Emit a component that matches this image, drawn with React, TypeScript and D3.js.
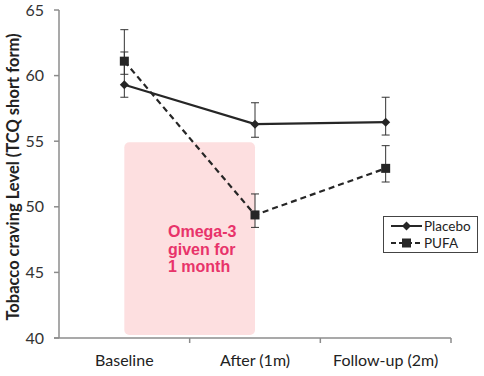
import React from "react";
import * as d3 from "d3";

const categories = ["Baseline", "After (1m)", "Follow-up (2m)"];
const placebo = [59.3, 56.3, 56.45];
const placeboLow = [58.35, 55.3, 55.47];
const placeboHigh = [61.8, 57.93, 58.35];
const pufa = [61.1, 49.38, 52.93];
const pufaLow = [60.1, 48.43, 51.89];
const pufaHigh = [63.5, 50.98, 54.66];
const yTicks = [40, 45, 50, 55, 60, 65];

const W = 484, H = 376;
const left = 59, right = 451, top = 10, bottom = 338;

export default function App() {
  const x = d3.scaleBand<string>().domain(categories).range([left, right]);
  const cx = (i: number) => (x(categories[i]) as number) + x.bandwidth() / 2;
  const y = d3.scaleLinear().domain([40, 65]).range([bottom, top]);
  const line = d3.line<number>().x((_, i) => cx(i)).y((d) => y(d));
  const font = "Lato, 'Open Sans', sans-serif";
  const axisColor = "#8c8c8c";
  const markColor = "#262626";

  const errBars = (lo: number[], hi: number[]) =>
    lo.map((l, i) => (
      <g key={i} stroke="#333" strokeWidth={1}>
        <line x1={cx(i)} x2={cx(i)} y1={y(l)} y2={y(hi[i])} />
        <line x1={cx(i) - 4} x2={cx(i) + 4} y1={y(l)} y2={y(l)} />
        <line x1={cx(i) - 4} x2={cx(i) + 4} y1={y(hi[i])} y2={y(hi[i])} />
      </g>
    ));

  const diamond = (px: number, py: number, k: string) => (
    <path key={k} d={`M${px},${py - 4.5}L${px + 4.5},${py}L${px},${py + 4.5}L${px - 4.5},${py}Z`} fill={markColor} />
  );
  const square = (px: number, py: number, k: string) => (
    <rect key={k} x={px - 4.5} y={py - 4.5} width={9} height={9} fill={markColor} />
  );

  const bandMid = cx(0);
  const bandEnd = cx(1);

  return (
    <svg width={W} height={H} style={{ position: "absolute", left: 0, top: 0, background: "#fff" }}>
      {/* shaded treatment period */}
      <rect x={bandMid} y={y(55) + 1} width={bandEnd - bandMid} height={bottom - 3 - (y(55) + 1)} rx={5} fill="#fddfe0" />
      <text fill="#e8336a" fontFamily="'Liberation Sans', Arial, sans-serif" fontWeight="bold" fontSize={16}>
        {["Omega-3", "given for", "1 month"].map((t, i) => (
          <tspan key={i} x={168} y={237 + i * 17.5}>{t}</tspan>
        ))}
      </text>

      {/* axes */}
      <line x1={left} x2={left} y1={top} y2={bottom} stroke={axisColor} strokeWidth={1.5} />
      <line x1={left - 5} x2={right} y1={bottom} y2={bottom} stroke={axisColor} strokeWidth={1.5} />
      {yTicks.map((t) => (
        <g key={t}>
          <line x1={left - 5} x2={left} y1={y(t)} y2={y(t)} stroke={axisColor} strokeWidth={1.5} />
          <text x={44} y={y(t)} dy="0.35em" textAnchor="end" fontFamily={font} fontSize={16} fill="#333">{t}</text>
        </g>
      ))}
      {categories.map((c, i) => (
        <g key={c}>
          <line x1={(x(c) as number) + x.bandwidth()} x2={(x(c) as number) + x.bandwidth()} y1={bottom} y2={bottom + 5} stroke={axisColor} strokeWidth={1.5} />
          <text x={cx(i)} y={bottom + 28} textAnchor="middle" fontFamily={font} fontSize={16} fill="#222">{c}</text>
        </g>
      ))}
      <text transform={`translate(19,177) rotate(-90)`} textAnchor="middle" fontFamily={font} fontWeight="bold" fontSize={16.5} fill="#222">
        Tobacco craving Level (TCQ short form)
      </text>

      {/* error bars */}
      {errBars(placeboLow, placeboHigh)}
      {errBars(pufaLow, pufaHigh)}

      {/* lines */}
      <path d={line(placebo) as string} fill="none" stroke={markColor} strokeWidth={2.2} />
      <path d={line(pufa) as string} fill="none" stroke={markColor} strokeWidth={2.2} strokeDasharray="6,4" />
      {placebo.map((v, i) => diamond(cx(i), y(v), "p" + i))}
      {pufa.map((v, i) => square(cx(i), y(v), "q" + i))}

      {/* legend */}
      <rect x={383.5} y={216.5} width={94} height={36} fill="#fff" stroke="#444" strokeWidth={1} />
      <line x1={391} x2={422} y1={226} y2={226} stroke={markColor} strokeWidth={2} />
      {diamond(406.5, 226, "ld")}
      <text x={424} y={226} dy="0.35em" fontFamily={font} fontSize={13.5} fill="#222">Placebo</text>
      <line x1={391} x2={422} y1={243} y2={243} stroke={markColor} strokeWidth={2} strokeDasharray="5,3" />
      {square(406.5, 243, "ls")}
      <text x={424} y={243} dy="0.35em" fontFamily={font} fontSize={13.5} fill="#222">PUFA</text>
    </svg>
  );
}
